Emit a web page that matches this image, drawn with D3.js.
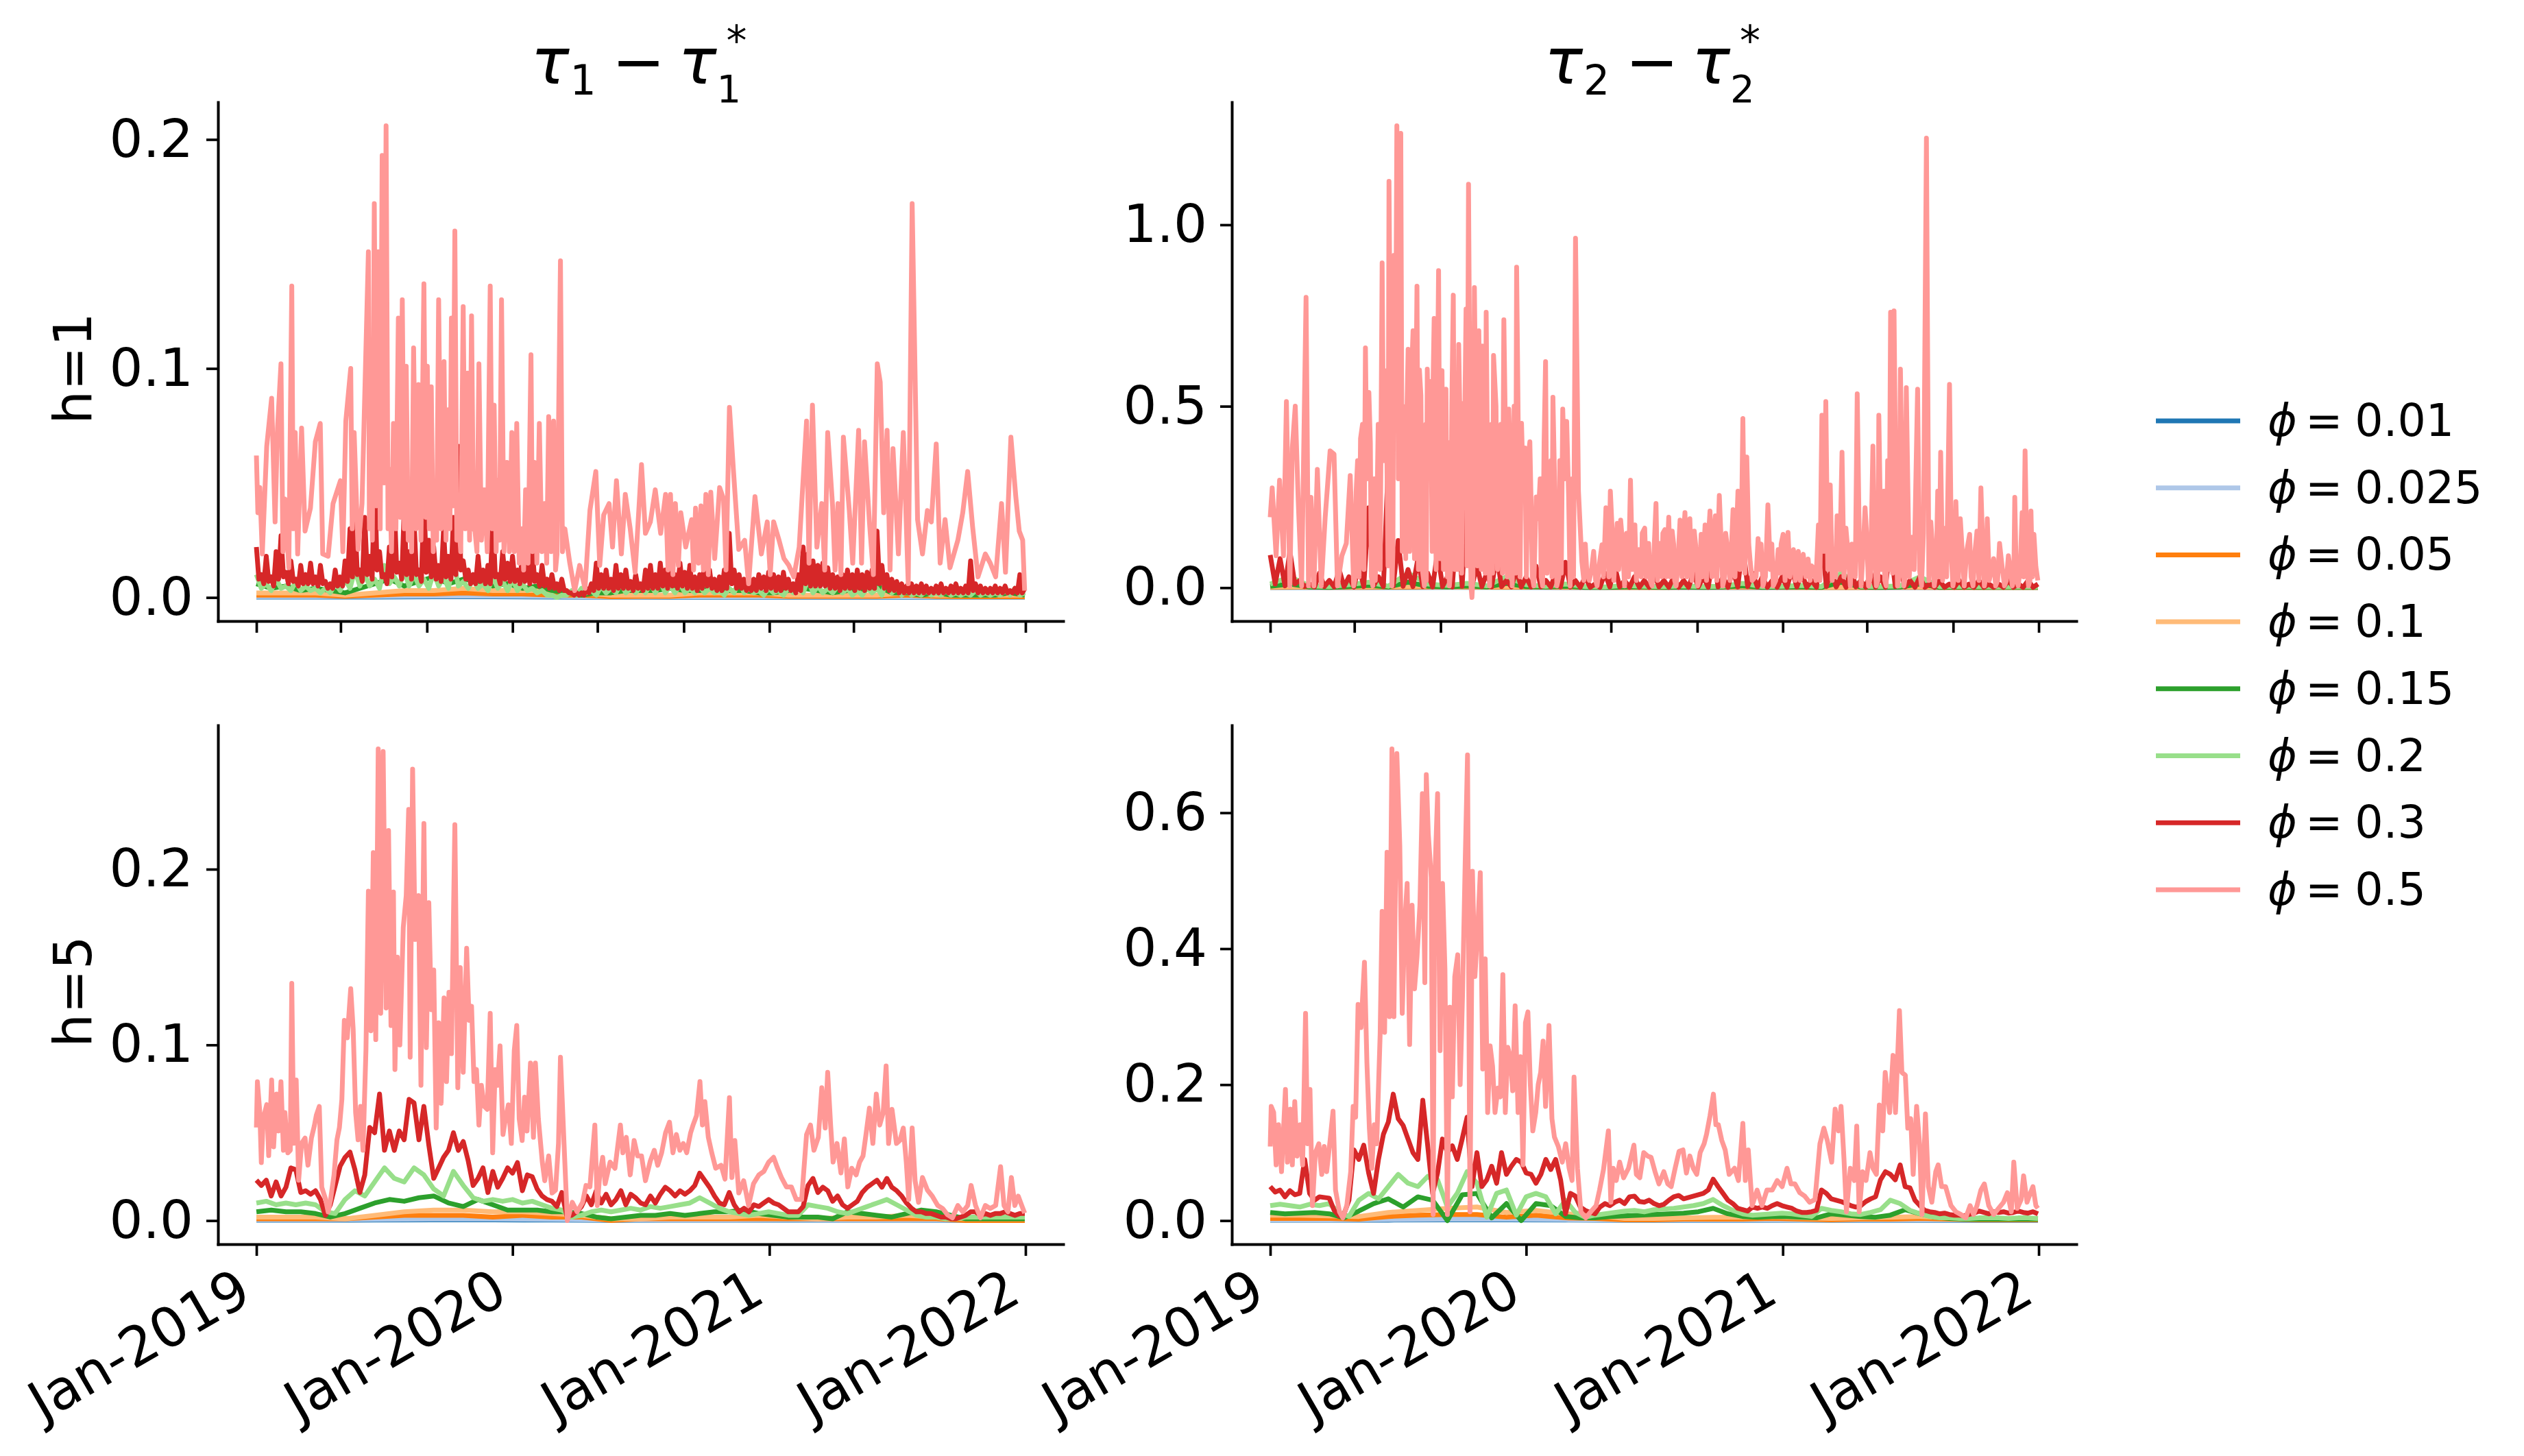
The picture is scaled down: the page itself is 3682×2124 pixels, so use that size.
<!DOCTYPE html>
<html>
<head>
<meta charset="utf-8">
<script src="https://cdn.jsdelivr.net/npm/d3@7"></script>
<style>
  body { margin: 0; background: #fff; }
  text { font-family: "DejaVu Sans", sans-serif; fill: #000; }
</style>
</head>
<body>
<svg id="chart"></svg>
<script>
// legend entries and colours
const phis = ["0.01", "0.025", "0.05", "0.1", "0.15", "0.2", "0.3", "0.5"];
const colors = ["#1f77b4", "#aec7e8", "#ff7f0e", "#ffbb78", "#2ca02c", "#98df8a", "#d62728", "#ff9896"];

// tick values
const yTicksT1H1 = [0, 0.1, 0.2];
const yTicksT2H1 = [0, 0.5, 1.0];
const yTicksT1H5 = [0, 0.1, 0.2];
const yTicksT2H5 = [0, 0.2, 0.4, 0.6];

// ---- tau1, h=1 ----  (plain arrays are evenly spaced over 2019-2021, pairs are [week, value])
const t1h1_001 = [0.0002,0.0002,0.0002,0.0003,0.0003,0.0002,0.0001,0.0001,0.0001,0.0001,0.0001,0.0001,0.0001,0.0001];
const t1h1_0025 = [0.0004,0.0004,0.0005,0.0006,0.0006,0.0005,0.0002,0.0003,0.0003,0.0003,0.0003,0.0003,0.0002,0.0002];
const t1h1_005 = [0.001,0.001,0.001,0.0005,0.001,0.0015,0.0015,0.002,0.0015,0.0015,0.001,0.001,0.0003,0.0005,0.0005,0.001,0.001,0.001,0.0005,0.0005,0.0005,0.0005,0.001,0.0005,0.0003,0.0003,0.0003];
const t1h1_01 = [0.002,0.002,0.002,0.001,0.002,0.003,0.003,0.004,0.003,0.003,0.003,0.002,0.001,0.001,0.001,0.002,0.002,0.002,0.001,0.001,0.001,0.001,0.002,0.001,0.001,0.001,0.001];
const t1h1_015 = [0.006,0.004,0.005,0.003,0.004,0.003,0.002,0.004,0.006,0.008,0.005,0.007,0.009,0.006,0.008,0.007,0.005,0.006,0.004,0.005,0.003,0.002,0.001,0.002,0.002,0.003,0.003,0.003,0.004,0.003,0.003,0.004,0.003,0.003,0.002,0.002,0.003,0.004,0.003,0.002,0.003,0.003,0.005,0.002,0.002,0.001,0.002,0.001,0.001,0.001,0.001,0.002,0.001];
const t1h1_02 = [0.010,0.004,0.006,0.003,0.008,0.004,0.005,0.003,0.007,0.003,0.005,0.003,0.004,0.002,0.004,0.002,0.006,0.003,0.008,0.004,0.012,0.005,0.010,0.005,0.008,0.004,0.014,0.006,0.009,0.005,0.012,0.005,0.010,0.005,0.008,0.004,0.011,0.005,0.009,0.004,0.016,0.005,0.007,0.004,0.008,0.004,0.006,0.003,0.009,0.004,0.007,0.003,
  0.008,0.003,0.006,0.003,0.004,0.002,0.003,0.001,0.001,0.000,0.001,0.001,0.003,0.001,0.004,0.002,0.003,0.001,0.005,0.002,0.004,0.002,0.006,0.002,0.004,0.002,0.005,0.002,0.006,0.002,0.007,0.002,0.005,0.002,0.006,0.002,0.004,0.002,0.005,0.002,0.004,0.002,0.003,0.001,0.004,0.002,0.008,0.002,0.004,0.002,0.003,0.001,
  0.004,0.002,0.003,0.001,0.004,0.002,0.006,0.002,0.008,0.002,0.005,0.002,0.004,0.002,0.005,0.002,0.004,0.001,0.003,0.001,0.004,0.002,0.004,0.001,0.009,0.002,0.004,0.001,0.003,0.001,0.002,0.001,0.003,0.001,0.002,0.001,0.003,0.001,0.002,0.001,0.002,0.001,0.003,0.001,0.002,0.001,0.002,0.001,0.003,0.001,0.004,0.001,0.002];
const t1h1_03 = [0.022,0.008,0.010,0.006,0.018,0.007,0.009,0.005,0.020,0.008,0.027,0.009,0.011,0.006,0.016,0.007,0.008,0.005,0.014,0.006,0.010,0.006,
  0.015,0.006,0.009,0.005,0.014,0.006,0.007,0.004,0.006,0.004,0.012,0.005,0.009,0.005,0.016,0.007,0.030,0.009,0.034,0.010,
  0.012,0.007,0.035,0.010,0.018,0.008,0.055,0.012,0.020,0.009,0.010,0.006,0.022,0.009,0.042,0.011,0.015,0.008,0.038,0.010,
  0.020,0.008,0.034,0.010,0.012,0.007,0.045,0.011,0.025,0.009,0.022,0.008,0.014,0.007,0.030,0.009,0.018,0.008,0.035,0.010,
  0.066,0.012,0.016,0.008,0.012,0.006,0.010,0.006,0.018,0.007,0.012,0.006,0.014,0.006,0.037,0.009,0.010,0.006,0.020,0.008,0.015,0.007,0.018,0.007,
  0.012,0.006,0.020,0.007,0.016,0.006,0.022,0.007,0.010,0.005,0.014,0.005,0.008,0.004,0.010,0.004,0.006,0.003,0.008,0.003,0.003,0.002,0.002,0.001,0.002,0.001,
  0.002,0.001,0.004,0.002,0.006,0.003,0.015,0.004,0.010,0.004,0.012,0.004,0.008,0.003,0.014,0.004,0.010,0.004,0.012,0.004,0.007,0.003,0.010,0.004,0.006,0.003,0.012,0.004,0.014,0.004,
  0.010,0.004,0.015,0.005,0.012,0.004,0.016,0.005,0.010,0.004,0.015,0.005,0.011,0.004,0.014,0.004,0.009,0.003,0.010,0.004,0.016,0.005,0.012,0.004,0.008,0.003,0.009,0.003,0.012,0.004,
  0.028,0.006,0.012,0.004,0.010,0.004,0.008,0.003,0.009,0.003,0.008,0.003,0.010,0.004,0.009,0.003,0.011,0.004,0.010,0.003,0.009,0.003,0.011,0.004,0.008,0.003,0.006,0.002,0.010,0.003,
  0.022,0.006,0.019,0.005,0.016,0.005,0.014,0.005,0.015,0.005,0.013,0.004,0.010,0.004,0.009,0.003,0.010,0.004,0.012,0.004,0.010,0.003,0.012,0.004,0.010,0.003,0.011,0.004,0.012,0.004,
  0.029,0.006,0.014,0.004,0.010,0.003,0.008,0.003,0.007,0.002,0.006,0.002,0.005,0.002,0.006,0.002,0.005,0.002,0.006,0.002,0.005,0.002,0.004,0.002,0.005,0.002,0.006,0.002,0.004,0.002,
  0.005,0.002,0.006,0.002,0.004,0.002,0.005,0.002,0.016,0.003,0.006,0.002,0.005,0.002,0.004,0.002,0.004,0.002,0.005,0.002,0.004,0.002,0.005,0.002,0.003,0.002,0.004,0.002,0.010,0.002,0.004];
const t1h1_05 = [[0,0.062],[0.3,0.037],[0.7,0.048],[1.2,0.019],[2.1,0.066],[3.1,0.087],[3.8,0.033],[4.3,0.074],[5.0,0.102],[5.4,0.020],[5.8,0.043],[6.6,0.013],[7.2,0.136],[7.5,0.030],[7.9,0.072],[8.4,0.019],[9.2,0.074],[9.9,0.029],[11.0,0.039],[12.0,0.068],[13.0,0.076],[13.5,0.019],[14.6,0.018],[15.6,0.041],[17.1,0.051],[17.6,0.020],[18.2,0.077],[19.2,0.100],[19.5,0.030],[19.9,0.072],[20.7,0.021],[21.5,0.041],
  [22.8,0.151],[23.0,0.03],[23.3,0.102],[23.6,0.025],[24.0,0.172],[24.4,0.04],[24.8,0.151],[25.2,0.03],[25.6,0.193],[26.0,0.05],[26.4,0.206],[26.8,0.03],[27.1,0.056],[27.5,0.02],[27.9,0.076],[28.4,0.03],[28.9,0.122],[29.3,0.035],[29.7,0.130],[30.1,0.03],[30.5,0.101],[30.9,0.025],[31.2,0.047],[31.6,0.02],[32.0,0.109],[32.5,0.03],[33.0,0.093],[33.5,0.025],[34.1,0.137],[34.5,0.035],[34.8,0.101],[35.2,0.03],[35.6,0.092],[36.0,0.02],[36.3,0.047],[36.7,0.025],[37.1,0.130],[37.6,0.03],[38.2,0.103],[38.6,0.025],[39.0,0.082],[39.4,0.03],[39.7,0.122],[40.0,0.04],[40.4,0.160],[40.8,0.025],[41.2,0.033],[41.6,0.02],[42.1,0.127],[42.5,0.03],[43.0,0.098],[43.4,0.025],[43.8,0.123],[44.2,0.03],[44.5,0.029],[44.9,0.02],[45.3,0.102],[45.8,0.025],[46.4,0.047],[47.0,0.02],[47.6,0.136],[48.0,0.03],[48.4,0.084],[48.8,0.02],[49.1,0.051],[49.5,0.025],[49.9,0.130],[50.4,0.02],[51.0,0.059],[51.5,0.02],[52.0,0.072],[52.5,0.02],[53.0,0.076],[53.5,0.015],[54.1,0.030],[54.4,0.012],[54.8,0.047],[55.3,0.015],[55.9,0.106],[56.2,0.02],[56.6,0.059],[57.1,0.015],[57.6,0.076],[58.1,0.02],[58.7,0.041],[59.1,0.015],[59.5,0.079],[60.0,0.02],[60.5,0.077],[60.9,0.012],[61.2,0.019],[61.9,0.147],[62.3,0.02],[62.8,0.030],
  [63.8,0.015],[64.8,0.003],[65.8,0.014],[66.9,0.004],[67.9,0.038],[69.1,0.055],[69.9,0.014],[70.7,0.036],[71.8,0.041],[72.5,0.022],[73.3,0.051],[74.3,0.019],[75.1,0.045],[76.1,0.030],[77.1,0.011],[78.4,0.058],[79.2,0.028],[80.2,0.033],[81.2,0.047],[82.3,0.028],[83.3,0.045],[83.8,0.012],[84.3,0.045],[84.8,0.010],[85.3,0.041],[85.9,0.014],[86.4,0.037],[87.4,0.022],[88.6,0.034],[89.0,0.012],[89.4,0.039],[90.0,0.015],[90.5,0.040],[91.0,0.012],[91.5,0.045],[92.0,0.010],[92.5,0.046],[93.3,0.017],[94.3,0.048],[95.1,0.043],[95.6,0.012],[96.3,0.083],[97.1,0.056],[98.2,0.021],[99.4,0.025],[100.2,0.006],[101.5,0.044],[102.8,0.019],[104.0,0.033],[104.6,0.010],[105.3,0.033],[106.4,0.025],[107.4,0.017],[108.4,0.014],[109.4,0.009],[110.5,0.022],[112.0,0.077],[112.5,0.015],[113.2,0.084],[114.1,0.022],[115.1,0.041],[115.7,0.012],[116.3,0.072],[117.3,0.040],[117.8,0.012],[118.4,0.041],[119.0,0.010],[119.5,0.070],[120.7,0.038],[121.4,0.015],[122.6,0.073],[123.2,0.015],[123.8,0.068],[124.8,0.033],[125.6,0.010],[126.4,0.102],[127.0,0.094],[127.7,0.037],[128.4,0.073],[129.0,0.012],[129.6,0.065],[130.7,0.019],[131.7,0.072],[132.7,0.006],[133.5,0.172],[134.6,0.034],[135.6,0.019],[136.6,0.038],[137.4,0.033],[138.4,0.067],[139.2,0.015],[140.2,0.034],[141.2,0.013],[142.8,0.025],[143.8,0.037],[144.8,0.055],[145.8,0.031],[146.9,0.009],[148.4,0.019],[149.4,0.015],[150.5,0.009],[151.7,0.041],[152.5,0.011],[153.6,0.070],[154.6,0.044],[155.3,0.029],[156.0,0.025],[156.4,0.003]];

// ---- tau2, h=1 ----
const t2h1_001 = [0.0005,0.0005,0.0006,0.0008,0.0008,0.0006,0.0003,0.0004,0.0004,0.0004,0.0003,0.0004,0.0003,0.0003];
const t2h1_0025 = [0.001,0.001,0.0012,0.0015,0.0015,0.0012,0.0006,0.0008,0.0008,0.0008,0.0006,0.0008,0.0006,0.0006];
const t2h1_005 = [0.001,0.0015,0.001,0.001,0.0015,0.002,0.0025,0.002,0.0015,0.0015,0.001,0.001,0.0005,0.0005,0.001,0.001,0.001,0.001,0.0005,0.0005,0.0005,0.001,0.001,0.0005,0.0005,0.0005,0.0005];
const t2h1_01 = [0.002,0.003,0.002,0.002,0.003,0.004,0.005,0.004,0.003,0.003,0.002,0.002,0.001,0.001,0.002,0.002,0.002,0.002,0.001,0.001,0.001,0.002,0.002,0.001,0.001,0.001,0.001];
const t2h1_015 = [0.004,0.010,0.002,0.001,0.003,0.006,0.002,0.015,0.004,0.002,0.005,0.002,0.012,0.003,0.002,0.004,0.001,0.001,0.002,0.002,0.001,0.002,0.001,0.002,0.005,0.001,0.002,0.002,0.001,0.015,0.002,0.001,0.002,0.010,0.001,0.002,0.001,0.001,0.001,0.001];
const t2h1_02 = [0.010,0.030,0.005,0.003,0.008,0.015,0.004,0.040,0.010,0.006,0.012,0.005,0.030,0.008,0.004,0.010,0.003,0.002,0.006,0.004,0.003,0.005,0.003,0.004,0.012,0.003,0.004,0.006,0.003,0.040,0.004,0.003,0.005,0.030,0.003,0.004,0.003,0.002,0.003,0.002];
const t2h1_03 = [0.09,0.01,0.08,0.005,0.10,0.01,0.02,0.003,0.01,0.002,0.04,0.003,0.02,0.002,0.05,0.003,0.03,0.002,0.06,0.003,0.22,0.005,0.03,0.003,0.35,0.005,0.13,0.004,0.05,0.003,0.08,0.003,0.04,0.002,0.10,0.003,0.03,0.002,0.20,0.004,
  0.27,0.005,0.06,0.003,0.04,0.002,0.09,0.003,0.02,0.002,0.05,0.002,0.03,0.002,0.06,0.002,0.02,0.002,0.04,0.002,0.07,0.002,0.02,0.001,0.03,0.001,0.01,0.001,0.04,0.002,0.06,0.002,0.02,0.001,0.03,0.001,0.02,0.001,0.04,0.002,
  0.02,0.001,0.03,0.001,0.02,0.001,0.04,0.002,0.03,0.001,0.09,0.002,0.03,0.001,0.05,0.002,0.12,0.003,0.04,0.002,0.03,0.001,0.02,0.001,0.03,0.001,0.05,0.002,0.04,0.001,0.02,0.001,0.14,0.003,0.05,0.002,0.03,0.001,0.05,0.002,
  0.02,0.001,0.04,0.001,0.03,0.001,0.12,0.003,0.05,0.002,0.02,0.001,0.03,0.001,0.01,0.001,0.02,0.001,0.01,0.001,0.02,0.001,0.01,0.001,0.02,0.001,0.01,0.001,0.01,0.001,0.02,0.001,0.01,0.001,0.02,0.001,0.01];
// main peaks of phi=0.5, then the dense swings between them
const t2h1_05 = [[0,0.194],[0.4,0.275],[1.2,0.088],[1.9,0.296],[2.7,0.088],[3.3,0.513],[4.0,0.005],[4.5,0.385],[5.1,0.500],[5.7,0.241],[6.4,0.005],[7.3,0.80],[7.8,0.005],[8.3,0.249],[8.9,0.005],[9.6,0.326],[10.4,0.005],[11.2,0.194],[12.2,0.377],[13.0,0.368],[13.7,0.005],[14.6,0.088],[15.5,0.122],[16.3,0.309],[17.0,0.005],[17.5,0.262],[18.4,0.411],[19.4,0.661],[20.1,0.538],[20.9,0.005],[21.7,0.173],[22.8,0.895],[23.4,0.598],[24.2,1.12],[24.8,0.005],[25.2,0.916],[25.8,1.273],[26.6,1.252],[27.3,0.36],[28.1,0.657],[29.1,0.708],[29.9,0.831],[30.7,0.53],[31.4,0.005],[32.0,0.602],[32.7,0.568],[33.4,0.742],[34.3,0.874],[35.0,0.598],[35.8,0.547],[36.5,0.005],[37.3,0.806],[38.4,0.670],[39.2,0.508],[39.9,0.768],[40.4,1.112],[40.9,0.005],[41.1,-0.027],[41.6,0.827],[42.5,0.708],[43.2,0.666],[44.0,0.759],[44.7,0.005],[45.5,0.640],[46.6,0.322],[47.6,0.738],[48.6,0.492],[49.3,0.005],[50.2,0.883],[51.2,0.453],[51.9,0.385],[52.9,0.402],[53.7,0.005],[54.6,0.19],[55.5,0.005],[56.1,0.623],[56.8,0.296],[57.6,0.525],[58.4,0.005],[59.6,0.492],[60.4,0.458],[61.1,0.005],[62.2,0.963],[62.8,0.266],[63.5,0.071],[64.5,0.045],[65.5,0.054],[66.6,0.005],[67.6,0.118],[68.4,0.22],[69.3,0.266],[70.2,0.071],[70.7,0.177],[71.4,0.186],[72.2,0.005],[73.4,0.296],[74.3,0.173],[75.1,0.105],[76.3,0.164],[77.1,0.122],[77.8,0.005],[78.6,0.232],[79.4,0.122],[80.4,0.16],[81.2,0.194],[81.9,0.156],[82.7,0.005],[83.5,0.186],[84.5,0.207],[85.5,0.19],[86.4,0.156],[87.1,0.005],[87.8,0.147],[88.6,0.173],[89.6,0.211],[90.7,0.198],[91.5,0.254],[92.2,0.005],[93.2,0.105],[94.3,0.215],[95.3,0.266],[96.3,0.466],[97.1,0.36],[97.8,0.071],[98.7,0.028],[99.4,0.135],[100.4,0.005],[101.4,0.228],[102.5,0.005],[103.5,0.105],[104.5,0.147],[105.5,0.152],[106.6,0.105],[107.6,0.10],[108.6,0.092],[109.6,0.079],[110.7,0.054],[111.7,0.173],[112.4,0.475],[113.2,0.513],[114.1,0.283],[114.8,0.105],[115.5,0.198],[116.5,0.373],[117.3,0.164],[118.2,0.005],[118.9,0.118],[119.6,0.534],[120.4,0.005],[121.2,0.22],[121.9,0.005],[122.8,0.39],[123.5,0.005],[124.0,0.475],[125.0,0.266],[125.5,0.005],[126.4,0.759],[127.1,0.763],[127.8,0.005],[128.4,0.602],[129.1,0.005],[129.6,0.551],[130.7,0.139],[131.9,0.547],[132.7,0.005],[133.7,1.239],[134.6,0.181],[135.3,0.005],[136.0,0.266],[136.6,0.373],[137.3,0.164],[138.4,0.56],[139.1,0.005],[139.7,0.237],[140.6,0.19],[141.4,0.005],[142.5,0.147],[143.2,0.005],[144.0,0.156],[144.8,0.275],[145.5,0.005],[146.1,0.19],[146.9,0.045],[147.8,0.005],[148.6,0.122],[149.6,0.005],[150.4,0.088],[151.2,0.005],[151.7,0.249],[152.4,0.005],[153.2,0.207],[153.8,0.377],[154.5,0.005],[155.0,0.211],[155.6,0.147],[156.0,0.058],[156.4,0.02],
  [17.2,0.02],[17.8,0.35],[18.1,0.03],[18.8,0.45],[19.1,0.05],[19.7,0.30],[20.4,0.40],[20.6,0.03],[21.2,0.30],[21.4,0.02],[22.0,0.45],[22.4,0.05],[23.1,0.35],[23.7,0.45],[24.0,0.06],[24.5,0.55],[25.0,0.10],[25.5,0.45],[26.1,0.30],[26.3,0.65],[26.9,0.10],[27.0,0.50],[27.6,0.08],[27.8,0.45],[28.4,0.10],[28.6,0.50],[29.4,0.08],[29.6,0.40],[30.2,0.05],[30.4,0.60],[31.0,0.05],[31.7,0.45],[31.8,0.02],[32.3,0.35],[33.0,0.10],[33.1,0.50],[33.8,0.05],[34.0,0.45],[34.6,0.08],[34.7,0.50],[35.3,0.05],[35.5,0.35],[36.1,0.03],[36.2,0.40],[36.8,0.06],[37.0,0.50],[37.6,0.05],[37.9,0.45],[38.1,0.05],[38.8,0.35],[39.0,0.04],[39.5,0.30],[40.1,0.06],[41.3,0.03],[41.9,0.45],[42.2,0.06],[42.8,0.40],[43.0,0.05],[43.5,0.45],[43.8,0.04],[44.3,0.30],[45.1,0.45],[45.3,0.04],[46.0,0.50],[46.3,0.05],[47.0,0.45],[47.3,0.04],[48.0,0.35],[48.3,0.03],[49.0,0.30],[49.7,0.50],[50.0,0.04],[50.6,0.35],[50.9,0.03],[51.5,0.30],[52.2,0.03],[52.5,0.35],[53.2,0.20],[53.4,0.03],[54.2,0.25],[55.0,0.30],[55.2,0.03],[55.8,0.40],[56.4,0.04],[57.2,0.35],[57.4,0.03],[58.0,0.25],[58.8,0.03],[59.0,0.35],[59.3,0.04],[60.0,0.30],[60.8,0.25],[61.5,0.30],[61.8,0.03],
  [63.9,0.02],[64.2,0.12],[65.0,0.02],[65.9,0.10],[66.3,0.02],[67.2,0.08],[67.9,0.03],[68.8,0.12],[69.0,0.03],[69.7,0.15],[70.0,0.02],[71.0,0.05],[71.8,0.12],[72.6,0.15],[73.0,0.03],[73.8,0.05],[74.6,0.02],[75.6,0.03],[75.8,0.15],[76.6,0.03],[77.4,0.02],[78.2,0.10],[78.9,0.02],[79.8,0.03],[80.0,0.15],[80.7,0.03],[81.5,0.03],[82.2,0.12],[82.4,0.02],[83.0,0.05],[83.9,0.03],[84.1,0.12],[84.9,0.03],[85.1,0.15],[85.9,0.02],[86.8,0.10],[87.4,0.02],[88.1,0.03],[88.9,0.02],[89.2,0.12],[90.0,0.03],[90.3,0.14],[91.0,0.02],[91.9,0.12],[92.6,0.03],[92.8,0.15],[93.7,0.02],[94.0,0.12],[94.7,0.03],[95.7,0.05],[96.0,0.15],[96.7,0.04],[97.5,0.12],[98.2,0.02],[99.0,0.03],[99.8,0.05],[100.0,0.12],[100.9,0.03],[101.9,0.05],[102.2,0.12],[103.0,0.02],[103.9,0.04],[104.1,0.12],[104.9,0.02],[105.9,0.03],[106.2,0.08],[107.0,0.02],[107.2,0.09],[108.0,0.02],[108.3,0.08],[109.1,0.03],[110.0,0.02],[110.3,0.06],[111.2,0.02],
  [112.0,0.02],[112.8,0.10],[113.6,0.05],[114.5,0.02],[115.2,0.03],[116.0,0.05],[116.9,0.03],[117.7,0.10],[118.5,0.12],[119.2,0.03],[120.0,0.15],[120.8,0.10],[121.5,0.15],[122.3,0.03],[123.1,0.10],[123.8,0.02],[124.5,0.05],[125.2,0.02],[125.8,0.35],[126.1,0.05],[126.8,0.04],[127.5,0.20],[128.1,0.03],[128.8,0.25],[129.3,0.02],[130.2,0.03],[131.2,0.05],[132.3,0.05],[133.1,0.15],[134.2,0.02],[135.0,0.10],[135.7,0.05],[136.3,0.03],[137.0,0.02],[137.8,0.03],[138.8,0.08],[139.4,0.03],[140.2,0.02],[141.0,0.10],[141.9,0.10],[142.8,0.03],[143.6,0.10],[144.4,0.02],[145.2,0.10],[145.8,0.03],[146.5,0.02],[147.4,0.08],[148.2,0.02],[149.1,0.06],[150.0,0.02],[150.8,0.05],[151.5,0.02],[152.0,0.03],[152.8,0.05],[153.5,0.03],[154.2,0.05],[154.8,0.02],[155.3,0.03]];

// ---- tau1, h=5 ----
const t1h5_001 = [0.0002,0.0002,0.0003,0.0004,0.0004,0.0003,0.0001,0.0002,0.0002,0.0002,0.0002,0.0002,0.0001,0.0001];
const t1h5_0025 = [0.0005,0.0005,0.0007,0.0009,0.0009,0.0007,0.0003,0.0004,0.0004,0.0005,0.0004,0.0004,0.0002,0.0002];
const t1h5_005 = [0.001,0.001,0.001,0.001,0.002,0.003,0.003,0.003,0.002,0.003,0.002,0.002,0.000,0.001,0.001,0.001,0.001,0.001,0.001,0.001,0.001,0.001,0.001,0.001,0.000,0.000,0.000];
const t1h5_01 = [0.002,0.002,0.002,0.001,0.003,0.005,0.006,0.006,0.005,0.005,0.004,0.003,0.001,0.001,0.002,0.002,0.002,0.003,0.002,0.001,0.002,0.002,0.003,0.002,0.001,0.001,0.001];
const t1h5_015 = [0.005,0.006,0.005,0.005,0.004,0.002,0.004,0.007,0.010,0.012,0.011,0.013,0.014,0.010,0.008,0.012,0.009,0.006,0.006,0.006,0.005,0.005,0.004,0.002,0.001,0.002,0.003,0.003,0.004,0.003,0.004,0.005,0.005,0.006,0.004,0.003,0.002,0.002,0.002,0.001,0.005,0.004,0.003,0.002,0.004,0.006,0.005,0.003,0.001,0.001,0.001,0.001,0.001];
const t1h5_02 = [0.010,0.011,0.009,0.010,0.009,0.010,0.009,0.005,0.004,0.012,0.017,0.014,0.022,0.030,0.024,0.022,0.030,0.026,0.018,0.014,0.028,0.020,0.013,0.011,0.012,0.011,
  0.012,0.010,0.011,0.009,0.007,0.006,0.002,0.003,0.005,0.006,0.005,0.006,0.007,0.006,0.008,0.007,0.008,0.009,0.010,0.013,0.010,0.007,0.005,0.004,0.003,0.004,
  0.005,0.004,0.003,0.003,0.009,0.008,0.007,0.005,0.004,0.006,0.008,0.010,0.012,0.009,0.006,0.003,0.002,0.002,0.001,0.001,0.002,0.002,0.002,0.002,0.002,0.002,0.002];
const t1h5_03 = [0.023,0.020,0.023,0.014,0.022,0.014,0.019,0.030,0.029,0.016,0.017,0.015,0.017,0.012,0.003,0.009,0.020,0.031,0.036,0.039,
  0.029,0.016,0.026,0.053,0.050,0.072,0.040,0.051,0.040,0.051,0.046,0.069,0.067,0.046,0.065,0.043,0.024,0.030,0.036,0.040,
  0.050,0.040,0.045,0.034,0.020,0.024,0.030,0.016,0.028,0.019,0.024,0.030,0.027,0.033,0.017,0.026,0.025,0.018,0.014,0.012,
  0.011,0.008,0.016,0.003,0.003,0.005,0.008,0.014,0.009,0.017,0.010,0.015,0.009,0.012,0.017,0.009,0.015,0.013,0.010,0.009,
  0.014,0.010,0.015,0.019,0.017,0.014,0.017,0.015,0.017,0.020,0.027,0.023,0.019,0.014,0.010,0.009,0.016,0.009,0.005,0.007,
  0.005,0.009,0.008,0.010,0.012,0.010,0.009,0.007,0.005,0.005,0.005,0.008,0.020,0.024,0.016,0.019,0.017,0.011,0.014,0.009,
  0.007,0.009,0.011,0.016,0.019,0.021,0.023,0.019,0.024,0.019,0.017,0.014,0.010,0.007,0.005,0.005,0.004,0.004,0.003,0.002,
  0.002,0.001,0.001,0.002,0.003,0.005,0.005,0.003,0.004,0.003,0.004,0.004,0.005,0.004,0.003,0.004,0.004];
const t1h5_05 = [[0,0.053],[0.2,0.079],[0.7,0.0615],[1.0,0.033],[1.4,0.058],[2.1,0.066],[2.5,0.037],[3.1,0.080],[3.5,0.042],[4.1,0.072],[4.5,0.051],[5.0,0.079],[5.5,0.040],[5.8,0.0615],[6.4,0.0386],[6.9,0.040],[7.2,0.135],[7.6,0.044],[8.1,0.080],[8.6,0.023],[9.2,0.044],[9.9,0.047],[10.5,0.0315],[11.2,0.047],[11.8,0.054],[12.2,0.060],[12.8,0.065],[13.3,0.019],[14.1,0.012],[14.6,0.005],[15.1,0.012],[15.8,0.026],[16.4,0.046],[16.9,0.053],[17.4,0.069],[17.9,0.114],[18.5,0.104],[19.2,0.132],[19.7,0.109],[20.2,0.0615],[20.7,0.046],[21.2,0.065],[21.7,0.040],[22.3,0.097],[22.8,0.1875],[23.3,0.108],[23.8,0.2095],[24.3,0.103],[24.8,0.2685],[25.3,0.118],[25.8,0.267],[26.4,0.121],[26.9,0.222],[27.4,0.111],[27.9,0.187],[28.2,0.086],[28.7,0.150],[29.2,0.100],[29.9,0.167],[30.5,0.185],[31.0,0.234],[31.3,0.093],[31.8,0.257],[32.3,0.160],[33.0,0.185],[33.5,0.077],[34.1,0.226],[34.6,0.0985],[35.1,0.181],[35.6,0.120],[36.1,0.1426],[36.6,0.0527],[37.1,0.1126],[37.6,0.0668],[38.2,0.1267],[38.7,0.0791],[39.2,0.130],[39.7,0.095],[40.4,0.2254],[41.0,0.0756],[41.5,0.144],[42.1,0.0844],[42.8,0.155],[43.3,0.114],[43.8,0.122],[44.3,0.0791],[44.8,0.086],[45.3,0.0544],[45.8,0.077],[46.4,0.065],[47.0,0.0633],[47.6,0.118],[48.1,0.0386],[48.6,0.086],[49.1,0.077],[49.6,0.0994],[50.2,0.049],[50.7,0.058],[51.3,0.0659],[51.9,0.0439],[52.5,0.097],[53.0,0.111],[53.5,0.058],[54.1,0.0456],[54.6,0.0703],[55.1,0.051],[55.8,0.0897],[56.4,0.0474],[56.8,0.0897],[57.4,0.058],[58.2,0.0333],[58.7,0.0227],[59.5,0.0368],[60.2,0.0157],[60.9,0.0174],[61.5,0.0439],[61.9,0.093],[62.6,0.0456],[63.3,0.0],[64.3,0.0104],[65.3,0.005],[66.4,0.0104],[67.1,0.020],[67.9,0.0192],[68.9,0.0544],[69.4,0.0086],[69.9,0.026],[70.5,0.036],[71.0,0.021],[72.0,0.0333],[73.0,0.0298],[74.1,0.0544],[74.6,0.0386],[75.3,0.0474],[76.1,0.026],[76.9,0.0456],[77.6,0.0368],[78.4,0.0368],[79.2,0.0227],[80.2,0.034],[81.0,0.040],[81.7,0.0315],[82.5,0.0386],[83.3,0.050],[84.1,0.056],[84.8,0.0386],[85.5,0.049],[86.2,0.040],[86.9,0.0439],[87.6,0.0386],[88.4,0.050],[88.9,0.0544],[89.6,0.0597],[90.3,0.0791],[90.8,0.0544],[91.3,0.0677],[92.0,0.0474],[92.7,0.0386],[93.5,0.0298],[94.6,0.0315],[95.4,0.0236],[96.3,0.070],[96.8,0.0245],[97.4,0.0456],[98.2,0.0157],[99.2,0.0227],[100.2,0.0086],[101.2,0.021],[102.3,0.026],[103.3,0.028],[104.3,0.0333],[105.3,0.036],[106.1,0.0298],[106.9,0.0245],[107.9,0.0192],[108.9,0.0192],[109.9,0.012],[111.0,0.012],[112.0,0.049],[112.8,0.0544],[113.5,0.040],[114.4,0.0474],[115.1,0.0756],[115.8,0.0527],[116.3,0.0844],[116.9,0.0544],[117.4,0.0333],[118.2,0.0439],[119.0,0.0271],[119.7,0.0465],[120.4,0.0192],[121.2,0.0298],[122.1,0.026],[122.8,0.0333],[123.5,0.0368],[124.1,0.049],[124.8,0.064],[125.5,0.0439],[126.2,0.072],[126.9,0.0544],[127.6,0.0615],[128.2,0.088],[128.7,0.0439],[129.4,0.0633],[130.3,0.0439],[131.0,0.0456],[131.7,0.0527],[132.3,0.0333],[132.8,0.012],[133.5,0.0527],[134.1,0.0227],[134.8,0.0104],[135.6,0.0245],[136.6,0.0174],[137.6,0.0139],[138.7,0.0086],[139.7,0.0069],[140.7,0.0033],[141.7,0.0016],[142.8,0.0086],[143.8,0.005],[144.8,0.0086],[145.5,0.020],[146.4,0.0086],[147.4,0.0016],[148.4,0.0086],[149.4,0.0069],[150.5,0.0086],[151.5,0.0307],[152.2,0.0086],[153.0,0.005],[153.7,0.0245],[154.4,0.0086],[155.1,0.0139],[155.8,0.0086],[156.4,0.0042]];

// ---- tau2, h=5 ----
const t2h5_001 = [0.0005,0.0005,0.0007,0.001,0.001,0.0008,0.0003,0.0004,0.0004,0.0005,0.0004,0.0004,0.0002,0.0002];
const t2h5_0025 = [0.0012,0.0012,0.0015,0.002,0.002,0.0015,0.0006,0.0008,0.0008,0.001,0.0008,0.0008,0.0005,0.0005];
const t2h5_005 = [0.003,0.003,0.003,0.002,0.006,0.008,0.009,0.009,0.005,0.008,0.004,0.003,0.001,0.001,0.002,0.002,0.002,0.003,0.002,0.001,0.002,0.002,0.003,0.002,0.001,0.001,0.001];
const t2h5_01 = [0.008,0.008,0.007,0.006,0.012,0.015,0.018,0.020,0.012,0.015,0.010,0.008,0.003,0.003,0.004,0.005,0.005,0.006,0.004,0.003,0.004,0.005,0.006,0.004,0.002,0.002,0.002];
const t2h5_015 = [0.012,0.010,0.011,0.012,0.010,0.004,0.014,0.025,0.032,0.020,0.035,0.030,0.000,0.038,0.040,0.004,0.025,0.000,0.025,0.022,0.006,0.004,0.004,0.006,0.007,0.008,0.009,0.010,0.011,0.013,0.018,0.010,0.006,0.005,0.006,0.006,0.005,0.004,0.010,0.008,0.006,0.005,0.008,0.016,0.010,0.005,0.003,0.002,0.002,0.002,0.002,0.002,0.002];
const t2h5_02 = [0.022,0.024,0.022,0.020,0.024,0.022,0.025,0.012,0.006,0.030,0.040,0.032,0.050,0.068,0.055,0.050,0.065,0.060,0.020,0.040,0.072,0.055,0.005,0.040,0.045,0.008,
  0.035,0.040,0.035,0.010,0.030,0.012,0.005,0.008,0.010,0.012,0.014,0.015,0.013,0.016,0.017,0.018,0.020,0.022,0.025,0.031,0.022,0.015,0.010,0.008,0.009,0.010,
  0.011,0.010,0.008,0.006,0.018,0.015,0.013,0.010,0.009,0.012,0.016,0.030,0.025,0.015,0.010,0.006,0.004,0.004,0.003,0.003,0.004,0.004,0.004,0.003,0.004,0.004,0.003];
const t2h5_03 = [0.050,0.042,0.045,0.035,0.044,0.038,0.040,0.090,0.040,0.030,0.035,0.034,0.033,0.015,0.007,0.010,0.030,0.104,0.090,0.111,
  0.070,0.040,0.090,0.127,0.145,0.186,0.150,0.140,0.120,0.100,0.090,0.177,0.110,0.040,0.070,0.120,0.100,0.110,0.090,0.120,
  0.152,0.050,0.100,0.050,0.060,0.080,0.055,0.100,0.068,0.080,0.090,0.086,0.070,0.068,0.055,0.068,0.090,0.075,0.090,0.060,
  0.010,0.040,0.036,0.020,0.015,0.012,0.010,0.020,0.025,0.022,0.027,0.030,0.025,0.035,0.036,0.028,0.027,0.030,0.025,0.022,
  0.024,0.030,0.035,0.037,0.032,0.034,0.036,0.038,0.040,0.045,0.061,0.050,0.040,0.030,0.025,0.018,0.016,0.014,0.020,0.018,
  0.020,0.018,0.022,0.025,0.022,0.020,0.018,0.014,0.012,0.012,0.013,0.015,0.045,0.040,0.032,0.030,0.028,0.025,0.022,0.020,
  0.022,0.028,0.032,0.035,0.060,0.072,0.068,0.060,0.082,0.050,0.048,0.030,0.022,0.015,0.013,0.012,0.010,0.011,0.009,0.008,
  0.008,0.007,0.009,0.011,0.014,0.012,0.010,0.013,0.012,0.013,0.011,0.012,0.014,0.012,0.011,0.013,0.010];
const t2h5_05 = [[0,0.109],[0.2,0.168],[0.7,0.159],[1.2,0.082],[1.7,0.141],[2.3,0.072],[3.1,0.193],[3.5,0.086],[4.1,0.164],[4.5,0.082],[5.0,0.175],[5.5,0.095],[6.1,0.141],[6.6,0.082],[7.2,0.305],[7.6,0.113],[8.1,0.193],[8.6,0.022],[9.2,0.100],[9.9,0.113],[10.5,0.068],[11.0,0.109],[11.5,0.072],[12.2,0.118],[12.8,0.161],[13.3,0.045],[14.1,0.013],[14.8,0.004],[15.6,0.022],[16.4,0.072],[16.9,0.168],[17.4,0.152],[17.9,0.318],[18.5,0.284],[19.2,0.380],[19.7,0.232],[20.2,0.136],[20.7,0.077],[21.2,0.141],[21.7,0.113],[22.4,0.275],[22.8,0.455],[23.3,0.277],[23.8,0.542],[24.3,0.300],[24.8,0.694],[25.2,0.300],[25.8,0.687],[26.4,0.551],[26.9,0.305],[27.4,0.437],[27.9,0.496],[28.4,0.259],[28.9,0.464],[29.4,0.341],[29.9,0.387],[30.5,0.464],[31.0,0.628],[31.5,0.350],[31.8,0.656],[32.2,0.569],[32.8,0.505],[33.2,0.009],[33.5,0.496],[34.1,0.628],[34.6,0.250],[35.1,0.496],[35.6,0.369],[36.1,0.009],[36.6,0.314],[37.1,0.182],[37.6,0.359],[38.2,0.391],[38.7,0.200],[39.2,0.337],[39.7,0.519],[40.2,0.685],[40.7,0.013],[41.2,0.514],[41.7,0.359],[42.3,0.432],[42.8,0.512],[43.3,0.223],[43.8,0.385],[44.3,0.159],[44.8,0.257],[45.3,0.227],[45.8,0.159],[46.4,0.195],[46.9,0.182],[47.4,0.362],[47.9,0.159],[48.4,0.255],[48.9,0.241],[49.4,0.191],[49.9,0.316],[50.5,0.159],[51.0,0.241],[51.5,0.082],[52.0,0.291],[52.5,0.307],[53.0,0.200],[53.5,0.132],[54.1,0.159],[54.6,0.200],[55.1,0.218],[55.6,0.264],[56.1,0.168],[56.8,0.287],[57.4,0.150],[57.9,0.123],[58.7,0.109],[59.5,0.086],[60.2,0.113],[60.9,0.077],[61.5,0.059],[61.9,0.211],[62.6,0.077],[63.3,0.013],[64.3,0.004],[65.3,0.013],[66.4,0.022],[67.1,0.045],[67.9,0.075],[68.9,0.132],[69.4,0.027],[69.9,0.077],[70.5,0.059],[71.2,0.086],[72.0,0.063],[73.0,0.077],[74.1,0.111],[74.6,0.068],[75.3,0.063],[76.1,0.100],[76.9,0.095],[77.6,0.093],[78.4,0.072],[79.2,0.054],[80.2,0.072],[81.0,0.054],[81.7,0.050],[82.5,0.077],[83.3,0.102],[84.1,0.104],[84.8,0.070],[85.5,0.095],[86.2,0.077],[86.9,0.068],[87.6,0.100],[88.4,0.113],[88.9,0.127],[89.6,0.154],[90.3,0.186],[90.8,0.141],[91.3,0.141],[92.0,0.118],[92.7,0.104],[93.5,0.068],[94.6,0.077],[95.4,0.059],[96.3,0.143],[96.8,0.059],[97.4,0.104],[98.2,0.022],[99.2,0.045],[100.2,0.022],[101.2,0.045],[102.3,0.045],[103.3,0.059],[104.3,0.050],[105.3,0.077],[106.1,0.054],[106.9,0.054],[107.9,0.041],[108.9,0.036],[109.9,0.027],[111.0,0.031],[112.0,0.113],[112.8,0.136],[113.5,0.118],[114.4,0.086],[115.1,0.164],[115.8,0.132],[116.3,0.168],[116.9,0.091],[117.4,0.013],[118.2,0.077],[119.0,0.059],[119.5,0.139],[120.0,0.013],[120.7,0.072],[121.4,0.059],[122.2,0.100],[122.8,0.077],[123.5,0.068],[124.1,0.170],[124.8,0.132],[125.3,0.218],[126.2,0.159],[126.9,0.243],[127.4,0.159],[128.2,0.309],[128.7,0.218],[129.4,0.214],[129.9,0.136],[130.5,0.150],[131.0,0.068],[131.7,0.168],[132.3,0.113],[132.8,0.009],[133.5,0.157],[134.1,0.050],[134.8,0.027],[135.6,0.072],[136.1,0.082],[136.8,0.050],[137.6,0.050],[138.7,0.022],[139.7,0.013],[140.7,0.009],[141.7,0.004],[142.6,0.022],[143.3,0.009],[144.0,0.022],[144.8,0.045],[145.5,0.054],[146.4,0.022],[147.4,0.009],[148.4,0.018],[149.4,0.027],[150.2,0.041],[151.0,0.013],[151.5,0.086],[152.2,0.018],[153.0,0.031],[153.5,0.066],[154.2,0.027],[154.9,0.041],[155.4,0.050],[156.0,0.022],[156.4,0.018]];

// ---- layout ----
const W = 3682, H = 2124;
const colX = [[318, 1551], [1797, 3029]];
const rowY = [[149, 906], [1058, 1815]];
const tStart = Date.UTC(2019, 0, 1);
const tEnd = Date.UTC(2021, 11, 31);
const lastWeek = (tEnd - tStart) / (7 * 864e5);
const tSpan = tEnd - tStart;

const weekDate = w => new Date(tStart + Math.min(w, lastWeek) * 7 * 864e5);
const spread = vals => vals.map((v, i) => [i * lastWeek / (vals.length - 1), v]);
const toPoints = s => d3.sort(Array.isArray(s[0]) ? s : spread(s), d => d[0])
  .map(([w, v]) => ({ date: weekDate(w), value: v }));

const panels = [
  { row: 0, col: 0, sub: "1", ticks: yTicksT1H1, series: [t1h1_001, t1h1_0025, t1h1_005, t1h1_01, t1h1_015, t1h1_02, t1h1_03, t1h1_05] },
  { row: 0, col: 1, sub: "2", ticks: yTicksT2H1, series: [t2h1_001, t2h1_0025, t2h1_005, t2h1_01, t2h1_015, t2h1_02, t2h1_03, t2h1_05] },
  { row: 1, col: 0, sub: "1", ticks: yTicksT1H5, series: [t1h5_001, t1h5_0025, t1h5_005, t1h5_01, t1h5_015, t1h5_02, t1h5_03, t1h5_05] },
  { row: 1, col: 1, sub: "2", ticks: yTicksT2H5, series: [t2h5_001, t2h5_0025, t2h5_005, t2h5_01, t2h5_015, t2h5_02, t2h5_03, t2h5_05] }
];

const svg = d3.select("#chart").attr("width", W).attr("height", H);
svg.append("rect").attr("width", W).attr("height", H).attr("fill", "#fff");

const x = d3.scaleUtc().domain([new Date(tStart - 0.05 * tSpan), new Date(tEnd + 0.05 * tSpan)]);

const styleAxis = (g, size) => {
  g.select(".domain").attr("stroke", "#000").attr("stroke-width", 4).attr("stroke-linecap", "square");
  g.selectAll(".tick line").attr("stroke", "#000").attr("stroke-width", 3.7);
  g.selectAll(".tick text").attr("font-size", size).attr("font-family", "DejaVu Sans").attr("fill", "#000");
};

panels.forEach(p => {
  const [x0, x1] = colX[p.col];
  const [y0, y1] = rowY[p.row];
  const px = x.copy().range([x0, x1]);

  const lines = p.series.map(toPoints);
  const all = lines.flat().map(d => d.value);
  const lo = d3.min(all), hi = d3.max(all), pad = (hi - lo) * 0.05;
  const py = d3.scaleLinear().domain([lo - pad, hi + pad]).range([y1, y0]);

  const g = svg.append("g");

  // series, 0.01 first so 0.5 ends on top
  const line = d3.line().x(d => px(d.date)).y(d => py(d.value));
  g.selectAll("path.series")
    .data(lines)
    .join("path")
    .attr("class", "series")
    .attr("d", line)
    .attr("fill", "none")
    .attr("stroke", (d, i) => colors[i])
    .attr("stroke-width", 7)
    .attr("stroke-linejoin", "round");

  // y axis
  const yAxis = d3.axisLeft(py).tickValues(p.ticks).tickFormat(d3.format(".1f"))
    .tickSize(17).tickSizeOuter(0).tickPadding(19);
  g.append("g").attr("transform", `translate(${x0},0)`).call(yAxis).call(styleAxis, 77);

  // x axis
  let xAxis;
  if (p.row === 0) {
    xAxis = d3.axisBottom(px).tickValues(d3.utcMonth.range(new Date(tStart), new Date(Date.UTC(2022, 1, 1)), 4))
      .tickFormat("").tickSize(17).tickSizeOuter(0);
  } else {
    xAxis = d3.axisBottom(px).tickValues(d3.utcYear.range(new Date(tStart), new Date(Date.UTC(2022, 1, 1))))
      .tickFormat(d3.utcFormat("%b-%Y")).tickSize(17).tickSizeOuter(0);
  }
  const xg = g.append("g").attr("transform", `translate(0,${y1})`).call(xAxis).call(styleAxis, 80);
  if (p.row === 1) {
    xg.selectAll(".tick text")
      .attr("text-anchor", "end")
      .attr("x", 0).attr("y", 0).attr("dy", 0)
      .attr("transform", "translate(-4,82) rotate(-30)");
  }

  // title on top row: one text element, pieces placed as tspans
  if (p.row === 0) {
    const cx = (x0 + x1) / 2;
    const tt = g.append("text").attr("class", "title");
    const piece = (txt, dx, y, size, italic) => tt.append("tspan")
      .attr("x", cx + dx).attr("y", y).attr("font-size", size)
      .attr("font-style", italic ? "italic" : "normal").text(txt);
    piece("τ", -160, 122, 93, true);
    piece(p.sub, -103, 138, 60, false);
    piece("−", -42, 122, 93, false);
    piece("τ", 55, 122, 93, true);
    piece(p.sub, 111, 149, 56, false);
    piece("*", 125, 80, 60, false);
  }

  // row label
  if (p.col === 0) {
    const cy = (y0 + y1) / 2 + 10;
    g.append("text")
      .attr("transform", `translate(133,${cy}) rotate(-90)`)
      .attr("text-anchor", "middle")
      .attr("font-size", 77)
      .text(p.row === 0 ? "h=1" : "h=5");
  }
});

// legend
const legend = svg.append("g").attr("class", "legend");
phis.forEach((phi, i) => {
  const cy = 614 + 97.7 * i;
  legend.append("line")
    .attr("x1", 3145).attr("x2", 3268).attr("y1", cy).attr("y2", cy)
    .attr("stroke", colors[i]).attr("stroke-width", 7);
  const t = legend.append("text").attr("x", 3308).attr("y", cy + 22).attr("font-size", 65);
  t.append("tspan").attr("font-style", "italic").text("ϕ");
  t.append("tspan").attr("dx", 12).text("=");
  t.append("tspan").attr("dx", 18).text(phi);
});
</script>
</body>
</html>
